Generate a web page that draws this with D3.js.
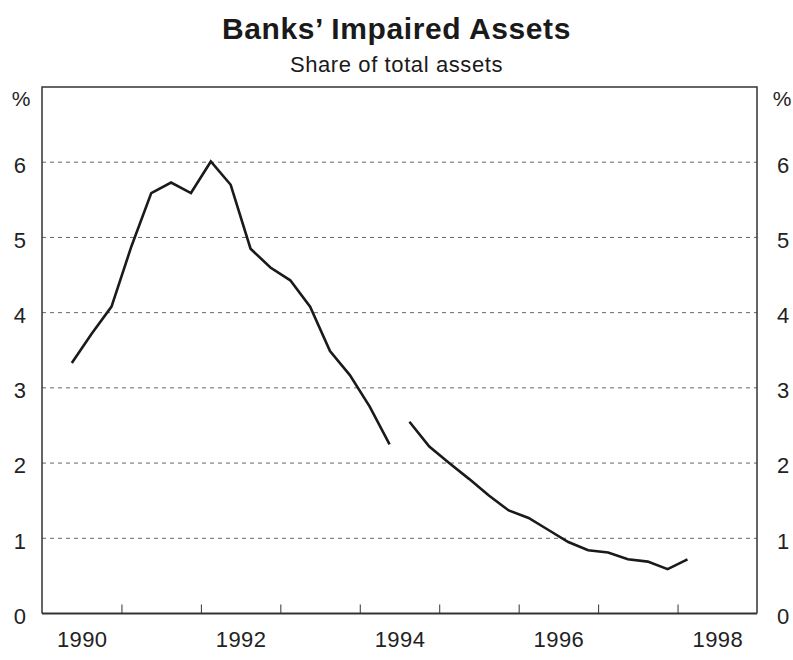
<!DOCTYPE html>
<html>
<head>
<meta charset="utf-8">
<script src="https://cdn.jsdelivr.net/npm/d3@7"></script>
<style>
  body { margin: 0; background: #fff; }
  svg { font-family: Arial, "Liberation Sans", sans-serif; }
</style>
</head>
<body>
<div id="chart"></div>
<script>
// quarterly data, 1990 Q2 - 1994 Q2 and 1994 Q3 - 1998 Q1 (break in series)
const series1Start = [1990, 2];
const series1 = [3.33, 3.72, 4.08, 4.88, 5.59, 5.73, 5.59, 6.01, 5.70, 4.85, 4.60, 4.43, 4.08, 3.49, 3.17, 2.75, 2.25];
const series2Start = [1994, 3];
const series2 = [2.55, 2.22, 2.00, 1.79, 1.57, 1.37, 1.27, 1.11, 0.95, 0.84, 0.81, 0.72, 0.69, 0.59, 0.72];
const yTicks = [0, 1, 2, 3, 4, 5, 6];
const yearTicks = [1991, 1992, 1993, 1994, 1995, 1996, 1997, 1998];
const yearLabels = [1990, 1992, 1994, 1996, 1998];

const W = 793, H = 660;
const margin = { top: 87, right: 36, bottom: 46.5, left: 42 },
    width = W - margin.left - margin.right,
    height = H - margin.top - margin.bottom;
const font = 'Arial, "Liberation Sans", sans-serif';

function toPoints(start, vals) {
    return vals.map((v, i) => {
        const q = start[1] - 1 + i;
        return { t: start[0] + (q + 0.5) / 4, v: v };
    });
}

const svg = d3.select('#chart').append('svg')
    .attr('width', W)
    .attr('height', H);

const g = svg.append('g')
    .attr('transform', 'translate(' + margin.left + ',' + margin.top + ')');

const x = d3.scaleLinear().domain([1990, 1999]).range([0, width]);
const y = d3.scaleLinear().domain([0, 7]).range([height, 0]);

// gridlines
g.append('g')
    .selectAll('line')
    .data(yTicks.filter(d => d > 0))
    .enter().append('line')
    .attr('x1', 0)
    .attr('x2', width)
    .attr('y1', d => y(d))
    .attr('y2', d => y(d))
    .attr('stroke', '#666')
    .attr('stroke-width', 1)
    .attr('stroke-dasharray', '4,4');

// year ticks (point up from the axis)
const xAxis = d3.axisBottom(x).tickValues(yearTicks).tickSizeInner(-9).tickSizeOuter(0).tickFormat('');
g.append('g')
    .attr('transform', 'translate(0,' + height + ')')
    .call(xAxis)
    .call(a => a.select('.domain').remove())
    .selectAll('line').attr('stroke', '#333').attr('stroke-width', 1);

// year labels, centred on each year
const xLabels = d3.axisBottom(x).tickValues(yearLabels.map(d => d + 0.5)).tickSize(0).tickPadding(18)
    .tickFormat(d => Math.floor(d));
g.append('g')
    .attr('transform', 'translate(0,' + height + ')')
    .call(xLabels)
    .call(a => a.select('.domain').remove())
    .selectAll('text').attr('font-size', 22).attr('fill', '#222').attr('font-family', font)
    .attr('letter-spacing', 0.4);

// y labels both sides
const yLeft = d3.axisLeft(y).tickValues(yTicks).tickSize(0).tickPadding(16).tickFormat(d3.format('d'));
g.append('g')
    .call(yLeft)
    .call(a => a.select('.domain').remove())
    .selectAll('text').attr('font-size', 22).attr('fill', '#222').attr('dy', '0.45em')
    .attr('font-family', font);

const yRight = d3.axisRight(y).tickValues(yTicks).tickSize(0).tickPadding(20).tickFormat(d3.format('d'));
g.append('g')
    .attr('transform', 'translate(' + width + ',0)')
    .call(yRight)
    .call(a => a.select('.domain').remove())
    .selectAll('text').attr('font-size', 22).attr('fill', '#222').attr('dy', '0.45em')
    .attr('font-family', font);

// unit labels
g.append('text').attr('x', -21).attr('y', 19).attr('text-anchor', 'middle')
    .attr('font-size', 21).attr('fill', '#222').text('%');
g.append('text').attr('x', width + 25).attr('y', 19).attr('text-anchor', 'middle')
    .attr('font-size', 21).attr('fill', '#222').text('%');

// frame
g.append('path')
    .attr('d', 'M0,' + height + 'V0H' + width + 'V' + height)
    .attr('fill', 'none')
    .attr('stroke', '#333')
    .attr('stroke-width', 1.5);
g.append('line')
    .attr('x1', 0).attr('x2', width)
    .attr('y1', height).attr('y2', height)
    .attr('stroke', '#333')
    .attr('stroke-width', 2);

// the series
const line = d3.line().x(d => x(d.t)).y(d => y(d.v));
[toPoints(series1Start, series1), toPoints(series2Start, series2)].forEach(pts => {
    g.append('path')
        .datum(pts)
        .attr('d', line)
        .attr('fill', 'none')
        .attr('stroke', '#1a1a1a')
        .attr('stroke-width', 2.6)
        .attr('stroke-linejoin', 'miter');
});

// titles
svg.append('text')
    .attr('x', W / 2).attr('y', 39)
    .attr('text-anchor', 'middle')
    .attr('font-size', 30).attr('font-weight', 'bold').attr('fill', '#1a1a1a')
    .attr('letter-spacing', 0.6)
    .text('Banks’ Impaired Assets');
svg.append('text')
    .attr('x', W / 2).attr('y', 72)
    .attr('text-anchor', 'middle')
    .attr('font-size', 22).attr('fill', '#1a1a1a')
    .attr('letter-spacing', 0.6)
    .text('Share of total assets');
</script>
</body>
</html>
